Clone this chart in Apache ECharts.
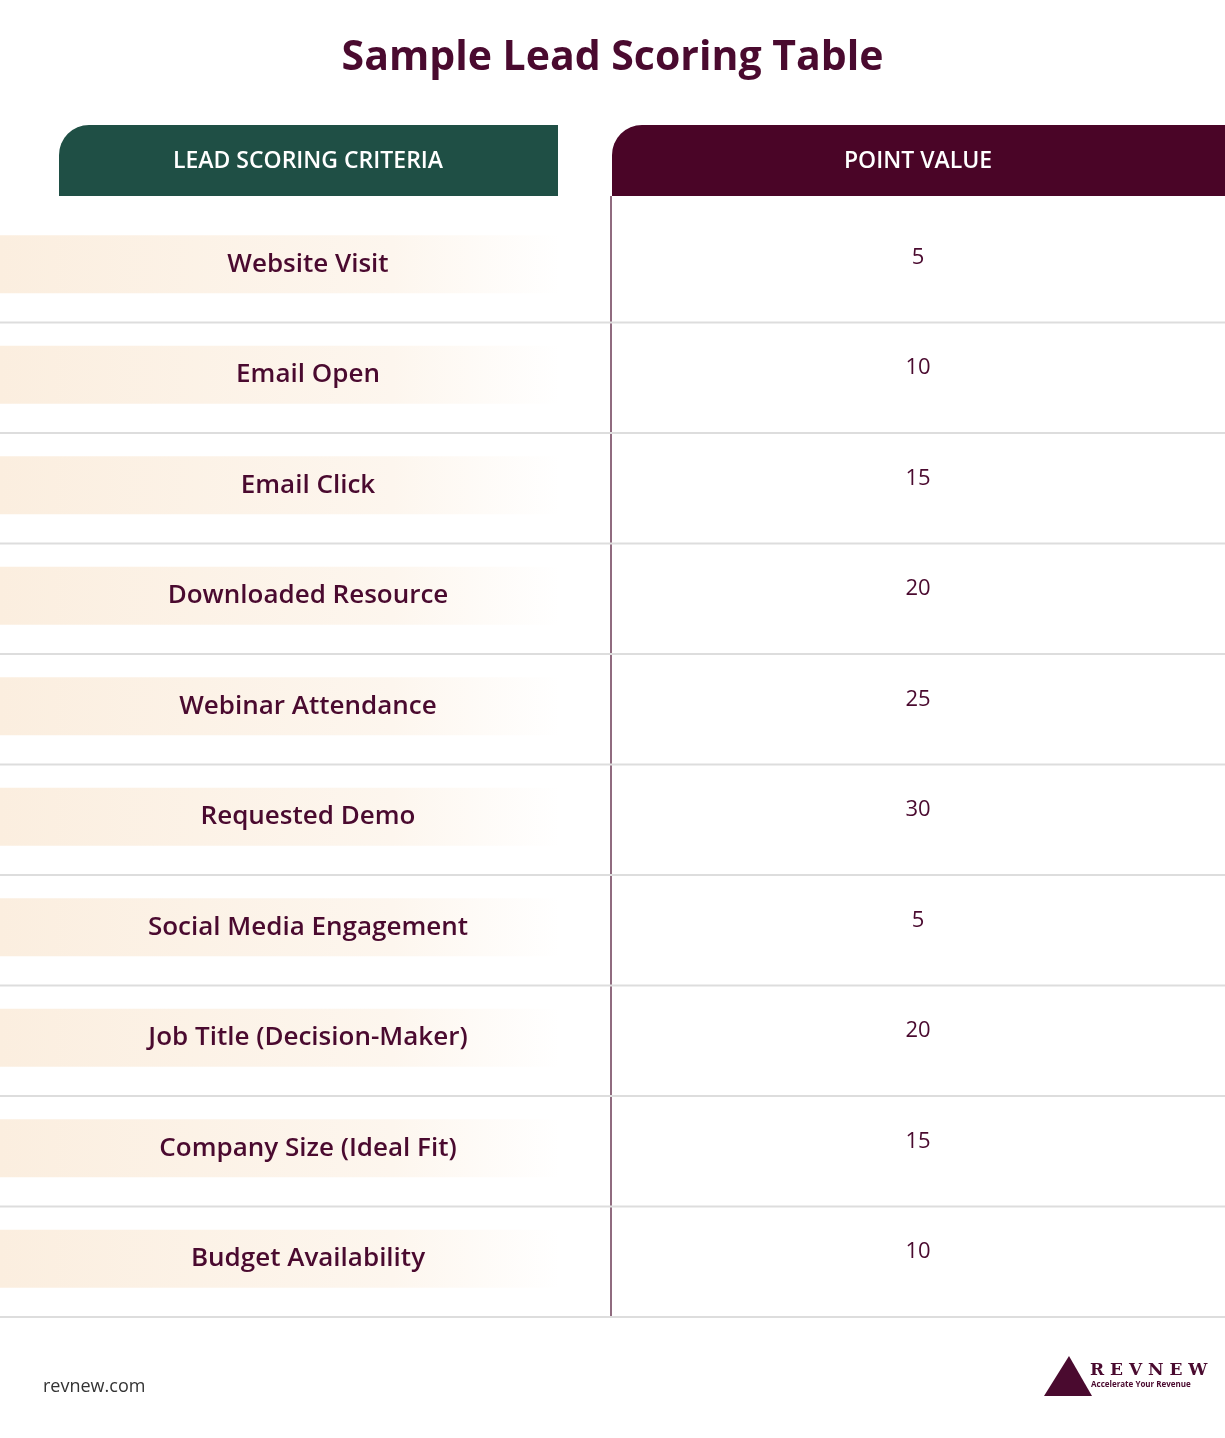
<!DOCTYPE html>
<html>
<head>
  <meta charset="utf-8">
  <title>Sample Lead Scoring Table</title>
  <script src="https://cdn.jsdelivr.net/npm/echarts@6/dist/echarts.min.js"></script>
  <style>
    html, body { margin: 0; padding: 0; background: #fff; }
    #chart { width: 1225px; height: 1438px; }
  </style>
</head>
<body>
  <div id="chart"></div>
  <script>
    // 表格数据
    const criteria = ['Website Visit', 'Email Open', 'Email Click', 'Downloaded Resource', 'Webinar Attendance',
      'Requested Demo', 'Social Media Engagement', 'Job Title (Decision-Maker)', 'Company Size (Ideal Fit)', 'Budget Availability'];
    const points = [5, 10, 15, 20, 25, 30, 5, 20, 15, 10];

    const maroon = '#4a0a2f';
    const font = '"Open Sans", "DejaVu Sans", sans-serif';

    let myChart = echarts.init(document.getElementById('chart'));

    let option = {
      backgroundColor: '#fff',
      animation: false,
      grid: { left: 0, right: 0, top: 212, bottom: 121 },
      xAxis: { type: 'value', min: 0, max: 1225, show: false },
      yAxis: { type: 'category', data: criteria, inverse: true, show: false },
      graphic: [
        { type: 'text', left: 'center', top: 38, style: { text: 'Sample Lead Scoring Table', fill: maroon, font: 'bold 41px ' + font } },
        { type: 'rect', shape: { x: 59, y: 125, width: 499, height: 71, r: [30, 0, 0, 0] }, style: { fill: '#1f4f45' } },
        { type: 'text', x: 308, y: 161, style: { text: 'LEAD SCORING CRITERIA', fill: '#fff', font: '600 23px ' + font, align: 'center', verticalAlign: 'middle' } },
        { type: 'rect', shape: { x: 612, y: 125, width: 613, height: 71, r: [30, 0, 0, 0] }, style: { fill: '#4a0527' } },
        { type: 'text', x: 918, y: 161, style: { text: 'POINT VALUE', fill: '#fff', font: '600 23px ' + font, align: 'center', verticalAlign: 'middle' } },
        { type: 'line', shape: { x1: 611, y1: 196, x2: 611, y2: 1317 }, style: { stroke: '#6b3a55', lineWidth: 1.5 } },
        { type: 'text', x: 43, y: 1378, style: { text: 'revnew.com', fill: '#333', font: '18px ' + font } },
        { type: 'polygon', shape: { points: [[1044, 1396], [1069, 1356], [1092, 1396]] }, style: { fill: maroon } },
        { type: 'text', x: 1090, y: 1362, style: { text: 'R E V N E W', fill: maroon, font: 'bold 17px "DejaVu Serif", serif' } },
        { type: 'text', x: 1091, y: 1381, style: { text: 'Accelerate Your Revenue', fill: maroon, font: 'bold 8px ' + font } }
      ],
      series: [{
        type: 'custom',
        data: criteria.map((c, i) => [i, points[i]]),
        renderItem: function (params, api) {
          let i = api.value(0);
          let c = api.coord([0, i]);
          let h = api.size([0, 1])[1];
          let bottom = c[1] + h / 2;
          return {
            type: 'group',
            children: [
              {
                type: 'rect',
                shape: { x: 0, y: c[1] - 32, width: 560, height: 58 },
                style: {
                  fill: new echarts.graphic.LinearGradient(0, 0, 1, 0, [
                    { offset: 0, color: '#fbeedf' },
                    { offset: 0.7, color: '#fdf6ee' },
                    { offset: 1, color: '#ffffff' }
                  ])
                }
              },
              {
                type: 'text', x: api.coord([308, i])[0], y: c[1] - 3,
                style: { text: criteria[i], fill: maroon, font: '600 26px ' + font, align: 'center', verticalAlign: 'middle' }
              },
              {
                type: 'text', x: api.coord([918, i])[0], y: c[1] - 10,
                style: { text: String(api.value(1)), fill: maroon, font: '22px ' + font, align: 'center', verticalAlign: 'middle' }
              },
              {
                type: 'line', shape: { x1: 0, y1: bottom, x2: 1225, y2: bottom },
                style: { stroke: '#dddddd', lineWidth: 2 }
              }
            ]
          };
        }
      }]
    };
    myChart.setOption(option);
  </script>
</body>
</html>
